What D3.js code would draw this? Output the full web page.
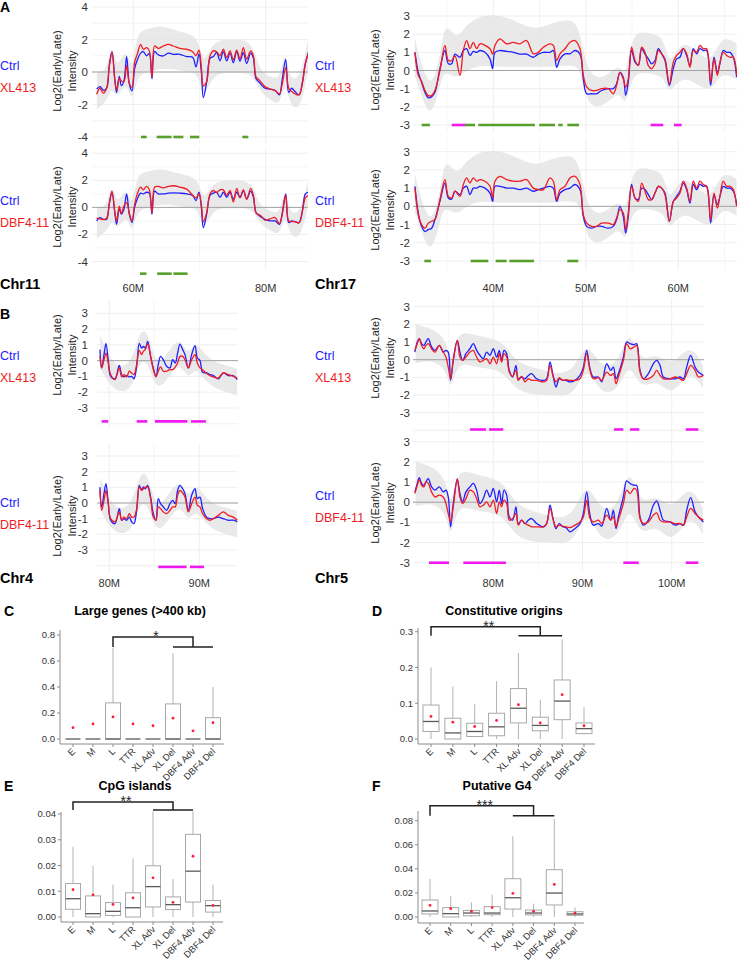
<!DOCTYPE html>
<html>
<head>
<meta charset="utf-8">
<script src="https://cdn.jsdelivr.net/npm/d3@7.9.0/dist/d3.min.js"></script>
<style>
  body { margin: 0; background: #fff; }
  svg { display: block; font-family: "Liberation Sans", Arial, sans-serif; }
</style>
</head>
<body>
<svg id="fig" width="737" height="961"></svg>
<script>
// ---------- panel A / B : replication timing tracks ----------
// positions in Mb, values are Log2(Early/Late)
const chr11Pos = [54.46,54.96,55.47,55.97,56.37,56.78,57.23,57.48,57.88,58.19,58.59,58.99,59.4,59.8,60.2,60.6,61.11,61.51,62.02,62.42,62.82,63.22,63.78,64.53,65.29,66.05,67.05,68.06,68.97,69.47,69.92,70.28,70.58,71.08,71.59,72.09,72.59,73.1,73.6,74.11,74.61,75.11,75.62,76.12,76.62,77.13,77.73,78.14,78.54,79.04,79.45,79.9,80.65,81.41,82.07,82.47,83.02,83.48,83.93,84.43,85.04,85.54,85.99,86.45];
const chr11CtrlA = [-1.05,-0.9,-1.12,-1.0,0.42,1.26,-0.53,-1.26,-0.27,-0.84,-0.53,0.95,-0.74,-1.16,0.21,0.74,1.16,1.26,0.99,1.16,-0.42,1.26,1.05,0.99,1.16,1.09,1.09,0.95,0.91,0.32,1.12,0,-1.58,-0.63,0.84,0.95,1.2,0.69,1.26,0.69,1.16,0.57,1.26,0.67,1.2,0.53,1.16,0.84,-0.42,-0.63,-0.84,-1.0,-1.05,-1.12,-1.41,-0.53,0.78,-1.26,-1.0,-1.2,-1.41,-0.63,0.53,1.2];
const chr11XL413 = [-1.37,-1.0,-1.3,-1.0,0.3,1.2,-0.6,-1.1,-0.4,-0.55,-0.6,0.4,-0.7,-0.95,0.6,1.1,1.7,1.4,1.5,1.3,-0.3,1.6,1.45,1.6,1.7,1.6,1.45,1.4,1.25,1.0,1.35,0.3,-0.85,-0.6,1.0,1.3,1.25,1.0,1.4,0.9,1.3,0.75,1.35,0.8,1.5,0.8,1.3,1.0,-0.3,-0.5,-0.7,-0.9,-1.05,-1.15,-1.35,-0.8,0.25,-1.0,-1.2,-1.35,-1.4,-0.7,0.5,1.15];
const chr11CtrlB = [-1.0,-0.75,-0.88,-0.88,0.25,1.1,-0.5,-1.25,-0.12,-0.5,-0.12,1.0,-0.5,-1.12,0,0.62,1.05,1.0,1.12,1.05,-0.5,1.2,1.0,1.0,1.05,1.07,1.05,1.0,0.88,0.5,1.12,0,-1.5,-0.5,0.88,1.05,1.12,0.75,1.12,0.75,1.12,0.62,1.12,0.75,1.25,0.62,1.2,0.75,-0.38,-0.62,-0.75,-0.88,-1.0,-1.0,-1.25,-0.5,1.0,-1.12,-1.0,-1.05,-1.12,-0.25,1.0,1.12];
const chr11DBF4 = [-0.8,-0.85,-0.9,-0.8,0.3,1.2,-0.4,-1.0,0.1,-0.45,0.1,0.35,-0.45,-1.0,0.2,1.0,1.5,1.3,1.55,1.3,-0.4,1.5,1.55,1.45,1.55,1.6,1.5,1.35,0.9,0.7,1.0,0.2,-1.05,-0.4,1.0,1.25,1.1,1.3,1.3,0.9,1.25,0.4,1.4,0.7,1.3,0.6,1.4,0.9,-0.4,-0.55,-0.7,-0.95,-0.85,-0.75,-1.2,-0.6,0.9,-1.0,-1.05,-1.05,-1.15,-0.3,0.7,0.9];

const chr17Pos = [31.53,31.89,32.25,32.61,32.97,33.33,33.69,34.23,34.77,35.14,35.5,35.86,36.4,36.76,37.12,37.48,37.84,38.2,38.56,39.1,39.64,39.93,40.18,40.72,41.44,42.16,42.88,43.6,44.32,44.86,45.41,46.13,46.49,46.85,47.21,47.75,48.29,48.83,49.37,49.73,50.09,50.63,51.17,51.71,52.43,52.97,53.33,53.69,54.05,54.31,54.59,54.95,55.32,55.68,56.04,56.4,56.76,57.12,57.48,57.84,58.2,58.56,59.03,59.46,59.82,60.18,60.54,60.9,61.26,61.62,61.98,62.34,62.7,63.06,63.5,63.86,64.22,64.5,64.86,65.23,65.59,65.95,66.31];
const chr17CtrlA = [1.0,-0.1,-0.65,-1.2,-1.5,-1.45,-1.2,0.1,1.1,0.37,0.37,0.9,0.73,1.1,1.2,0.83,1.05,1.0,1.1,1.0,0.64,0.1,1.0,1.1,1.05,1.0,0.9,0.9,0.73,0.9,1.0,1.0,1.1,0.18,0.64,0.92,0.92,1.1,0.9,-0.46,-1.28,-1.28,-1.28,-1.1,-1.0,-1.0,-0.73,-0.1,-0.37,-1.37,-0.64,1.1,0.46,0.3,1.2,0.9,0.64,0.37,0.55,1.2,0.92,0.55,-0.82,0.1,0.64,0.73,1.2,0.83,0.27,1.2,0.92,1.2,1.1,1.1,-0.82,0.73,-0.1,0.37,1.1,1.0,1.0,0.73,-0.37];
const chr17XL413 = [1.0,-0.27,-0.6,-1.1,-1.38,-1.38,-1.1,0,1.38,0.55,0.55,0.8,-0.27,1.1,1.65,1.2,1.55,1.2,1.47,1.38,1.2,0.9,1.38,1.74,1.47,1.55,1.47,1.65,0.92,1.0,1.28,1.47,1.38,0.55,0.92,1.2,1.55,1.65,1.2,-0.27,-0.9,-1.1,-1.1,-1.0,-1.0,-1.28,-0.82,-0.1,-0.46,-0.92,-0.46,1.28,0.55,0.27,1.28,1.0,0.27,0.1,0.37,1.1,0.92,0.64,-0.73,0.46,0.83,1.0,1.2,0.92,0.18,1.1,1.0,1.38,1.2,1.2,-0.64,0.64,-0.27,0.46,1.0,0.83,0.73,0.73,-0.27];
const chr17CtrlB = [1.1,-0.37,-1.1,-1.38,-1.28,-1.2,-0.73,0.27,1.28,0.46,0.4,0.83,0.64,1.0,1.1,0.64,1.0,1.0,1.1,1.0,0.73,0.27,1.1,1.1,1.0,1.0,0.92,1.0,0.83,0.92,1.0,1.1,1.0,0.27,0.73,0.92,1.0,1.2,0.92,-0.55,-1.1,-1.2,-1.1,-1.1,-1.2,-1.1,-0.73,0,-0.55,-1.47,-0.55,1.2,0.46,0.37,1.0,0.92,0.64,0.37,0.73,1.1,1.0,0.73,-0.82,0.27,0.55,0.83,1.28,0.92,0.18,1.2,0.92,1.2,1.1,1.1,-0.92,0.64,0.1,0.55,1.1,1.0,1.0,0.83,0.1];
const chr17DBF4 = [1.0,-0.46,-1.0,-1.2,-0.92,-0.82,-0.73,0.37,1.47,0.55,0.46,0.83,0.55,1.2,1.56,1.28,1.56,1.38,1.47,1.38,1.1,0.46,1.38,1.65,1.47,1.38,1.38,1.47,1.0,0.92,0.92,1.56,1.38,0.37,0.92,1.1,1.56,1.65,1.2,-0.46,-0.92,-1.1,-1.1,-0.92,-0.92,-1.0,-0.64,-0.18,-0.37,-1.28,-0.37,1.1,0.46,0.27,1.28,0.83,0.37,0.37,0.73,1.1,1.0,0.64,-0.82,0.27,0.46,0.73,1.38,1.0,0.27,1.38,1.0,1.38,1.2,1.1,-0.73,0.73,-0.1,0.55,1.38,1.1,1.1,0.92,0];

const chr4Pos = [78.96,79.15,79.41,79.63,79.89,80.15,80.63,81.11,81.37,81.63,81.93,82.22,82.48,82.74,83.04,83.33,83.59,83.78,84.0,84.26,84.59,84.89,85.19,85.44,85.7,86.0,86.37,86.74,87.04,87.33,87.59,87.85,88.15,88.41,88.78,89.15,89.52,89.78,90.07,90.37,90.81,91.19,91.56,92.11,92.67,93.22,93.78,94.22];
const chr4CtrlA = [0.7,-0.46,0.38,1.1,0,-1.0,-1.15,-0.3,-0.88,-1.03,-0.95,-1.03,-1.0,-1.15,-0.36,1.1,0.8,0.9,0.8,1.22,0.27,-0.46,-1.0,-0.25,0.27,0.06,-0.36,-0.46,0.06,-0.15,0.48,1.05,0.7,0.38,-0.46,0.38,0.95,0.17,0.02,-0.74,-0.78,-0.88,-0.95,-1.15,-0.78,-0.95,-0.95,-1.2];
const chr4XL413 = [0.27,-0.46,0.06,0.48,-0.15,-0.88,-1.2,-0.46,-1.03,-0.88,-1.03,-0.67,-0.78,-0.88,-0.25,0.65,0.38,0.59,0.7,1.07,0.27,-0.57,-1.03,-0.67,-0.4,-0.67,-0.67,-0.57,-0.57,-0.4,-0.15,0.27,0.27,0.06,-0.46,0.06,0.38,-0.15,-0.46,-0.57,-0.82,-0.95,-1.03,-1.1,-0.78,-0.88,-0.99,-1.1];
const chr4CtrlB = [1.0,-0.25,0.6,1.23,-0.04,-1.1,-1.32,-0.36,-1.1,-1.0,-1.1,-0.9,-1.2,-1.32,-0.47,1.13,0.85,1.02,0.91,1.13,0.38,-0.68,-1.1,0.28,-0.04,-0.25,-0.47,-0.04,0.17,-0.04,0.8,1.13,0.91,0.6,-0.47,0.49,0.91,0.28,0.38,-0.36,-0.9,-1.0,-1.0,-0.9,-1.0,-1.1,-1.1,-1.2];
const chr4DBF4 = [0.8,-0.47,0.17,0.8,-0.04,-1.0,-1.2,-0.57,-1.1,-0.9,-1.0,-0.68,-0.9,-0.9,-0.36,1.02,0.8,0.91,1.02,1.02,0.28,-0.9,-1.1,-0.25,-0.36,-0.57,-0.68,-0.47,-0.25,-0.25,0.49,0.8,0.64,0.38,-0.57,-0.04,0.38,-0.15,-0.25,-0.68,-1.0,-1.1,-1.0,-0.79,-0.57,-0.79,-0.9,-1.1];

const chr5Pos = [71.21,71.48,71.7,71.96,72.22,72.45,72.71,73.08,73.46,73.94,74.39,74.69,74.95,75.21,75.51,75.96,76.26,76.56,76.93,77.38,77.76,78.13,78.5,78.88,79.25,79.63,80.0,80.37,80.67,80.93,81.2,81.5,81.79,82.17,82.54,82.8,83.18,83.55,83.93,84.3,84.86,85.61,85.98,86.36,86.73,87.03,87.4,87.78,88.15,88.6,89.16,89.72,90.09,90.47,90.84,91.21,91.78,92.15,92.71,93.16,93.46,93.76,94.02,94.58,94.95,95.33,95.78,96.07,96.45,96.82,97.38,97.94,98.32,98.69,99.07,99.81,100.37,100.93,101.31,101.68,102.13,102.62,102.99,103.55];
const chr5CtrlA = [0.43,1.0,1.19,0.91,0.81,1.0,1.19,0.72,0.53,0.81,0.43,0.53,0.43,-1.17,-0.04,1.09,0.43,-0.04,0.34,0.62,0.91,0.53,0.25,0.06,0.43,0.25,0.62,0.15,0.53,-0.04,0.53,0.34,-0.6,-0.98,-0.32,-1.08,-0.98,-1.08,-0.89,-0.79,-1.08,-1.17,-1.08,-0.13,-0.98,-1.55,-1.08,-1.17,-1.17,-1.26,-1.17,-0.89,-0.42,0.53,-0.51,-0.98,-0.98,-1.26,-0.23,-0.6,-0.42,-1.08,-0.79,0.15,1.0,0.91,0.85,0.91,-0.6,-1.08,-0.79,-0.23,-0.04,-0.32,-0.98,-1.08,-1.08,-0.98,-1.08,-0.42,0.25,-0.42,-0.7,-0.89];
const chr5XL413 = [0.53,0.91,1.19,0.81,0.62,0.81,0.91,0.62,0.43,0.81,0.43,0.15,-0.42,-1.08,-0.04,1.09,0.15,-0.04,0.15,0.43,0.53,0.15,-0.13,-0.04,0.06,-0.23,0.15,-0.23,0.34,-0.13,0.34,0.15,-0.7,-0.94,-0.6,-1.17,-0.94,-1.26,-1.08,-1.17,-1.17,-1.26,-1.17,-0.32,-0.98,-1.26,-1.02,-1.17,-1.13,-1.17,-1.17,-1.08,-0.6,0.34,-0.6,-1.08,-1.02,-1.17,-0.7,-0.89,-0.79,-1.36,-0.98,-0.04,0.91,0.62,0.72,0.81,-0.7,-1.08,-1.08,-0.89,-0.6,-0.89,-1.08,-1.08,-0.98,-1.08,-1.17,-0.79,-0.32,-0.6,-0.98,-0.89];
const chr5CtrlB = [0.51,0.93,1.22,0.93,0.84,1.01,1.17,0.76,0.6,0.76,0.51,0.6,0.26,-1.22,-0.07,1.12,0.43,0.02,0.51,0.76,0.93,0.6,-0.07,0.18,0.6,0.26,0.68,0.02,0.6,-0.07,0.6,0.35,-0.73,-0.89,-0.23,-1.06,-0.89,-1.06,-0.89,-0.81,-1.06,-1.22,-1.06,-0.15,-0.89,-1.31,-1.06,-1.22,-1.26,-1.47,-1.31,-1.06,-0.56,0.51,-0.64,-1.14,-1.06,-1.19,-0.31,-0.89,-0.4,-1.31,-0.73,0.26,1.06,0.93,0.84,0.84,-0.73,-1.14,-0.89,-0.15,0.07,-0.4,-0.89,-0.98,-1.14,-1.06,-1.14,-0.4,0.23,-0.48,-0.73,-0.98];
const chr5DBF4 = [0.43,0.84,1.12,0.84,0.76,1.01,0.93,0.51,0.26,0.35,0.26,-0.07,-0.56,-0.98,-0.23,1.17,0.26,-0.07,0.18,0.6,0.51,0.18,-0.23,-0.15,0.02,-0.23,0.1,-0.56,0.02,-0.23,0.1,-0.07,-0.89,-0.81,-0.56,-1.14,-0.89,-1.06,-1.14,-1.22,-1.22,-1.22,-1.06,-0.31,-0.89,-1.22,-1.14,-1.19,-1.22,-1.26,-1.14,-0.98,-0.73,0.1,-0.81,-0.98,-0.89,-1.06,-0.64,-0.89,-0.73,-1.22,-0.89,-0.07,0.6,0.43,0.68,0.6,-0.81,-1.06,-0.98,-0.64,-0.53,-0.89,-0.98,-0.98,-1.06,-1.06,-1.14,-0.73,-0.31,-0.56,-0.73,-0.89];

// spread of the grey probe cloud: [pos, low, high]
const chr11Cloud = [[54.5,-2.3,0],[56,-1.8,0],[56.8,-0.8,2],[57.5,-1.8,0],[59,-0.4,1.7],[59.8,-2.1,-0.2],[60.5,-0.3,2.5],[62,0,2.6],[64,0.2,2.9],[66,0.2,2.6],[68,0,2.4],[69.9,0,2.1],[70.6,-1.9,0.3],[72,0,2],[75,-0.1,2],[78,0,2],[79,-1.2,0],[81,-1.8,-0.3],[82.1,-2.1,-0.5],[83,-0.4,1.6],[83.5,-2,-0.5],[85.2,-2.5,-0.5],[86.4,0.1,2]];
const chr17Cloud = [[31.5,-0.3,1.8],[32.3,-1.5,0.2],[33,-2.4,-0.7],[33.7,-2,-0.4],[34.3,-0.6,1],[34.8,0,2.8],[36,-0.5,1.6],[37,0,2.5],[38.5,0.3,3],[40.5,0.2,3.1],[42.5,0.2,2.7],[44.5,0.2,2.2],[46.2,0.2,2.6],[48.5,0.3,2.9],[49.4,0.2,2.2],[50.2,-2.1,-0.3],[52,-2,-0.5],[53.7,-1,0.5],[54.3,-2.2,-0.6],[55,0,2.3],[57,-0.2,2],[58.5,-0.3,1.9],[59,-1.5,0],[60.5,0,2.1],[63.5,-1.5,0],[64.5,0,2],[66.3,-0.5,1.5]];
const chr4Cloud = [[79,-0.5,1.6],[80.5,-2,-0.5],[82.5,-2,-0.3],[83.3,0,1.9],[84.3,0,2],[85.2,-2,-0.5],[86.5,-1.2,0.5],[87.8,0,1.6],[88.8,-1.3,0.2],[89.6,-0.3,1.4],[91,-1.6,0],[93,-2,-0.3],[94.2,-2.2,-0.5]];
const chr5Cloud = [[71.3,-0.2,2],[73,0,1.8],[74.8,-0.5,1.2],[75.2,-2,-0.5],[76,0,1.8],[78,-0.5,1.3],[81,-0.5,1.2],[82.5,-1.8,-0.2],[85,-2,-0.5],[87,-2,-0.8],[89,-2.1,-0.7],[90.5,-0.2,1.2],[92,-2,-0.5],[94,-1.8,-0.3],[95.3,0,2],[96.5,-1.8,-0.3],[98.3,-1,0.5],[100,-2.2,-0.5],[102,-0.5,1],[103.5,-1.6,-0.3]];

// advanced (adv) / delayed (del) domains: [start, end, type]
const chr11SegXL = [[61.16,62.02,'adv'],[63.53,65.79,'adv'],[66.05,67.56,'adv'],[68.56,69.97,'adv'],[76.47,77.38,'adv']];
const chr11SegDBF = [[61.0,62.0,'adv'],[63.6,65.8,'adv'],[66.05,68.2,'adv']];
const chr17SegXL = [[32.25,33.15,'adv'],[35.5,36.94,'del'],[36.94,38.02,'adv'],[38.38,44.5,'adv'],[44.97,46.67,'adv'],[47.03,47.5,'adv'],[48.0,49.26,'adv'],[57.0,58.38,'del'],[59.53,60.36,'del']];
const chr17SegDBF = [[32.54,33.26,'adv'],[37.55,39.46,'adv'],[40.25,41.44,'adv'],[41.73,44.4,'adv'],[48.0,49.19,'adv']];
const chr4SegXL = [[79.15,79.89,'del'],[83.04,84.22,'del'],[85.07,88.67,'del'],[89.07,90.74,'del']];
const chr4SegDBF = [[85.44,88.59,'del'],[88.96,90.52,'del']];
const chr5SegXL = [[77.38,79.18,'del'],[79.51,81.12,'del'],[93.53,94.58,'del'],[95.33,96.37,'del'],[101.57,102.99,'del']];
const chr5SegDBF = [[72.79,75.03,'del'],[76.64,81.42,'del'],[94.58,96.3,'del'],[101.57,102.99,'del']];

// ---------- panels C-F : box plots ----------
const boxCats = ['E','M','L','TTR','XL Adv','XL Del','DBF4 Adv','DBF4 Del'];

const largeMin  = [0,0,0,0,0,0,0,0];
const largeQ1   = [0,0,0,0,0,0,0,0];
const largeMed  = [0,0,0,0,0,0,0,0];
const largeQ3   = [0,0,0.278,0,0,0.27,0,0.164];
const largeMax  = [0,0,0.70,0,0,0.66,0,0.40];
const largeMean = [0.087,0.116,0.17,0.116,0.102,0.16,0.063,0.125];

const origMin  = [0,0,0.007,0,0,0,0,0.013];
const origQ1   = [0.021,0,0.007,0.009,0.045,0.023,0.054,0.015];
const origMed  = [0.049,0.017,0.021,0.034,0.086,0.038,0.106,0.029];
const origQ3   = [0.095,0.058,0.044,0.072,0.141,0.061,0.165,0.045];
const origMax  = [0.2,0.147,0.097,0.162,0.24,0.11,0.279,0.089];
const origMean = [0.063,0.047,0.035,0.052,0.096,0.045,0.124,0.037];

const cpgMin  = [0,0,0,0,0,0,0,0];
const cpgQ1   = [0.003,0,0.0006,0,0.0039,0.0029,0.0058,0.0019];
const cpgMed  = [0.0071,0.0013,0.0022,0.0036,0.0118,0.0048,0.0178,0.0044];
const cpgQ3   = [0.013,0.0082,0.0056,0.0094,0.0199,0.0078,0.0321,0.0064];
const cpgMax  = [0.0273,0.0199,0.0126,0.0227,0.041,0.0147,0.041,0.0126];
const cpgMean = [0.0106,0.0086,0.0049,0.0074,0.0152,0.0057,0.0236,0.0045];

const g4Min  = [0,0,0,0,0,0,0,0];
const g4Q1   = [0.0025,0,0.001,0.0019,0.0066,0.0017,0.01,0.0014];
const g4Med  = [0.005,0.0028,0.0033,0.0033,0.016,0.0033,0.0199,0.0025];
const g4Q3   = [0.0141,0.0078,0.0055,0.0086,0.0318,0.0058,0.0393,0.0044];
const g4Max  = [0.0316,0.0172,0.0122,0.0185,0.067,0.0111,0.0814,0.008];
const g4Mean = [0.0097,0.0069,0.0047,0.0078,0.0197,0.0047,0.0271,0.0033];

// ---------- drawing ----------
const svg = d3.select('#fig');
const BLUE = '#2020ff', RED = '#f01c24';
const segColor = { adv: '#58a02c', del: '#f01af0' };
let clipN = 0;

function drawTrack(t) {
  const x = d3.scaleLinear().domain(t.xd).range(t.xr);
  const y = d3.scaleLinear().domain(t.yd).range(t.yr);
  const g = svg.append('g');
  const cid = 'clip' + (clipN++);
  svg.append('clipPath').attr('id', cid).append('rect')
    .attr('x', t.left).attr('y', t.top)
    .attr('width', t.right - t.left).attr('height', t.bottom - t.top);

  // grid
  const yLo = Math.ceil(y.invert(t.bottom)), yHi = Math.floor(y.invert(t.top));
  d3.range(yLo, yHi + 1).forEach(v => {
    g.append('line').attr('x1', t.left).attr('x2', t.right)
      .attr('y1', y(v)).attr('y2', y(v))
      .attr('stroke', v % t.yStep === 0 ? '#ebebeb' : '#f3f3f3').attr('stroke-width', 0.8);
  });
  const step = t.xTicks[1] - t.xTicks[0];
  const xa = x.invert(t.left), xb = x.invert(t.right);
  d3.range(Math.ceil(xa / (step / 2)) * step / 2, xb, step / 2).forEach(v => {
    g.append('line').attr('x1', x(v)).attr('x2', x(v))
      .attr('y1', t.top).attr('y2', t.bottom)
      .attr('stroke', Math.abs(v % step) < 1e-6 ? '#ebebeb' : '#f3f3f3').attr('stroke-width', 0.8);
  });

  const inner = g.append('g').attr('clip-path', `url(#${cid})`);

  // grey probe cloud
  inner.append('path').datum(t.cloud)
    .attr('d', d3.area().curve(d3.curveBasis)
      .x(d => x(d[0])).y0(d => y(d[1])).y1(d => y(d[2])))
    .attr('fill', '#e2e2e2').attr('opacity', 0.75);

  inner.append('line').attr('x1', t.left).attr('x2', t.right)
    .attr('y1', y(0)).attr('y2', y(0)).attr('stroke', '#a3a3a3').attr('stroke-width', 1);

  const line = d3.line().curve(d3.curveCatmullRom.alpha(0.5))
    .x(d => x(d[0])).y(d => y(d[1]));
  [[t.ctrl, BLUE], [t.treat, RED]].forEach(([vals, col]) => {
    inner.append('path').datum(t.pos.map((p, i) => [p, vals[i]]))
      .attr('d', line).attr('fill', 'none').attr('stroke', col).attr('stroke-width', 1.3);
  });

  // advanced / delayed domains
  g.selectAll(null).data(t.segs).join('line')
    .attr('x1', d => x(d[0])).attr('x2', d => x(d[1]))
    .attr('y1', y(t.segLevel)).attr('y2', y(t.segLevel))
    .attr('stroke', d => segColor[d[2]]).attr('stroke-width', 2.6);

  // y ticks
  g.selectAll(null).data(t.yTicks).join('text')
    .attr('x', t.tickX).attr('y', d => y(d) + 4)
    .attr('text-anchor', 'end').attr('font-size', 11.5).attr('fill', '#333')
    .text(d => d);

  // y title
  [['Log2(Early/Late)', t.titleX], ['Intensity', t.titleX + 15]].forEach(([s, tx]) => {
    g.append('text').attr('transform', `translate(${tx},${t.titleY}) rotate(-90)`)
      .attr('text-anchor', 'middle').attr('font-size', 11).attr('fill', '#222').text(s);
  });

  // legend names
  g.append('text').attr('x', t.nameX).attr('y', t.nameY).attr('font-size', 12.5)
    .attr('fill', BLUE).text('Ctrl');
  g.append('text').attr('x', t.nameX).attr('y', t.nameY + 22).attr('font-size', 12.5)
    .attr('fill', RED).text(t.treatName);

  if (t.chr) {
    g.selectAll(null).data(t.xTicks).join('text')
      .attr('x', d => x(d)).attr('y', t.xLabelY)
      .attr('text-anchor', 'middle').attr('font-size', 11).attr('fill', '#333')
      .text(d => d + 'M');
    g.append('text').attr('x', t.nameX).attr('y', t.chrY)
      .attr('font-size', 14.5).attr('font-weight', 'bold').text(t.chr);
  }
}

// Chr11 (A, left)
drawTrack({ xd: [60, 80], xr: [133.3, 265.7], left: 92, right: 308, top: 0, bottom: 143,
  yd: [-4, 4], yr: [137, 7], yStep: 2, yTicks: [-4, -2, 0, 2, 4], tickX: 88,
  xTicks: [60, 80], pos: chr11Pos, ctrl: chr11CtrlA, treat: chr11XL413, cloud: chr11Cloud,
  segs: chr11SegXL, segLevel: -4, titleX: 61, titleY: 71, nameX: 0, nameY: 70, treatName: 'XL413' });
drawTrack({ xd: [60, 80], xr: [133.3, 265.7], left: 92, right: 308, top: 147, bottom: 270,
  yd: [-4, 4], yr: [261.5, 153.3], yStep: 2, yTicks: [-4, -2, 0, 2, 4], tickX: 88,
  xTicks: [60, 80], pos: chr11Pos, ctrl: chr11CtrlB, treat: chr11DBF4, cloud: chr11Cloud,
  segs: chr11SegDBF, segLevel: -4.9, titleX: 61, titleY: 207, nameX: 0, nameY: 205, treatName: 'DBF4-11',
  chr: 'Chr11', xLabelY: 292, chrY: 289 });

// Chr17 (A, right)
drawTrack({ xd: [40, 60], xr: [493.3, 678.3], left: 413, right: 737, top: 0, bottom: 133,
  yd: [-3, 3], yr: [125, 16], yStep: 1, yTicks: [-3, -2, -1, 0, 1, 2, 3], tickX: 410,
  xTicks: [40, 50, 60], pos: chr17Pos, ctrl: chr17CtrlA, treat: chr17XL413, cloud: chr17Cloud,
  segs: chr17SegXL, segLevel: -3, titleX: 379, titleY: 70, nameX: 315, nameY: 70, treatName: 'XL413' });
drawTrack({ xd: [40, 60], xr: [493.3, 678.3], left: 413, right: 737, top: 138, bottom: 270,
  yd: [-3, 3], yr: [261, 151.7], yStep: 1, yTicks: [-3, -2, -1, 0, 1, 2, 3], tickX: 410,
  xTicks: [40, 50, 60], pos: chr17Pos, ctrl: chr17CtrlB, treat: chr17DBF4, cloud: chr17Cloud,
  segs: chr17SegDBF, segLevel: -3, titleX: 379, titleY: 210, nameX: 315, nameY: 205, treatName: 'DBF4-11',
  chr: 'Chr17', xLabelY: 292, chrY: 289 });

// Chr4 (B, left)
drawTrack({ xd: [80, 90], xr: [109.3, 199.3], left: 97, right: 238, top: 300, bottom: 428,
  yd: [-3, 3], yr: [408, 313.3], yStep: 1, yTicks: [-3, -2, -1, 0, 1, 2, 3], tickX: 88,
  xTicks: [80, 90], pos: chr4Pos, ctrl: chr4CtrlA, treat: chr4XL413, cloud: chr4Cloud,
  segs: chr4SegXL, segLevel: -3.85, titleX: 61, titleY: 355, nameX: 0, nameY: 360, treatName: 'XL413' });
drawTrack({ xd: [80, 90], xr: [109.3, 199.3], left: 97, right: 238, top: 444, bottom: 571,
  yd: [-3, 3], yr: [550, 456], yStep: 1, yTicks: [-3, -2, -1, 0, 1, 2, 3], tickX: 88,
  xTicks: [80, 90], pos: chr4Pos, ctrl: chr4CtrlB, treat: chr4DBF4, cloud: chr4Cloud,
  segs: chr4SegDBF, segLevel: -4.08, titleX: 61, titleY: 516, nameX: 0, nameY: 507, treatName: 'DBF4-11',
  chr: 'Chr4', xLabelY: 587, chrY: 583 });

// Chr5 (B, right)
drawTrack({ xd: [80, 100], xr: [493.3, 671.7], left: 413, right: 704, top: 298, bottom: 433,
  yd: [-3, 3], yr: [412.7, 306.7], yStep: 1, yTicks: [-3, -2, -1, 0, 1, 2, 3], tickX: 410,
  xTicks: [80, 90, 100], pos: chr5Pos, ctrl: chr5CtrlA, treat: chr5XL413, cloud: chr5Cloud,
  segs: chr5SegXL, segLevel: -3.95, titleX: 379, titleY: 358, nameX: 315, nameY: 360, treatName: 'XL413' });
drawTrack({ xd: [80, 100], xr: [493.3, 671.7], left: 413, right: 704, top: 433, bottom: 570,
  yd: [-3, 3], yr: [562.7, 441.7], yStep: 1, yTicks: [-3, -2, -1, 0, 1, 2, 3], tickX: 410,
  xTicks: [80, 90, 100], pos: chr5Pos, ctrl: chr5CtrlB, treat: chr5DBF4, cloud: chr5Cloud,
  segs: chr5SegDBF, segLevel: -3, titleX: 379, titleY: 503, nameX: 315, nameY: 500, treatName: 'DBF4-11',
  chr: 'Chr5', xLabelY: 587, chrY: 583 });

function drawBoxes(b) {
  const x = d3.scalePoint().domain(boxCats).range(b.xr);
  const y = d3.scaleLinear().domain(b.yd).range(b.yr);
  const g = svg.append('g');
  const rows = boxCats.map((c, i) => ({ c, lo: b.min[i], q1: b.q1[i], med: b.med[i],
    q3: b.q3[i], hi: b.max[i], mean: b.mean[i] }));
  const w = b.boxW;

  g.selectAll(null).data(rows).join('line')
    .attr('x1', d => x(d.c)).attr('x2', d => x(d.c))
    .attr('y1', d => y(d.lo)).attr('y2', d => y(d.hi))
    .attr('stroke', '#b3b3b3').attr('stroke-width', 1);
  g.selectAll(null).data(rows).join('rect')
    .attr('x', d => x(d.c) - w / 2).attr('width', w)
    .attr('y', d => y(d.q3)).attr('height', d => Math.max(0, y(d.q1) - y(d.q3)))
    .attr('fill', '#fff').attr('stroke', '#a8a8a8').attr('stroke-width', 1);
  g.selectAll(null).data(rows).join('line')
    .attr('x1', d => x(d.c) - w / 2).attr('x2', d => x(d.c) + w / 2)
    .attr('y1', d => y(d.med)).attr('y2', d => y(d.med))
    .attr('stroke', '#5a5a5a').attr('stroke-width', 1.3);
  g.selectAll(null).data(rows).join('circle')
    .attr('cx', d => x(d.c)).attr('cy', d => y(d.mean)).attr('r', 1.4)
    .attr('fill', '#ff1a3c');

  // axes
  g.append('line').attr('x1', b.axisX).attr('x2', b.axisX)
    .attr('y1', b.axisY).attr('y2', b.axisTop).attr('stroke', '#8c8c8c');
  g.append('line').attr('x1', b.axisX).attr('x2', b.axisRight)
    .attr('y1', b.axisY).attr('y2', b.axisY).attr('stroke', '#8c8c8c');
  const fmt = d3.format(b.fmt);
  b.ticks.forEach(v => {
    g.append('line').attr('x1', b.axisX - 3).attr('x2', b.axisX)
      .attr('y1', y(v)).attr('y2', y(v)).attr('stroke', '#8c8c8c');
    g.append('text').attr('x', b.axisX - 5).attr('y', y(v) + 3.3)
      .attr('text-anchor', 'end').attr('font-size', 9.5).attr('fill', '#333').text(fmt(v));
  });
  boxCats.forEach(c => {
    g.append('line').attr('x1', x(c)).attr('x2', x(c))
      .attr('y1', b.axisY).attr('y2', b.axisY + 3).attr('stroke', '#8c8c8c');
    g.append('text')
      .attr('transform', `translate(${x(c) + 3},${b.axisY + 8}) rotate(-45)`)
      .attr('text-anchor', 'end').attr('font-size', 9.3).attr('fill', '#333').text(c);
  });

  // title and panel letter
  g.append('text').attr('x', b.titleX).attr('y', b.titleY).attr('text-anchor', 'middle')
    .attr('font-size', 12.5).attr('font-weight', 'bold').text(b.title);
  g.append('text').attr('x', b.letterX).attr('y', b.titleY + 1)
    .attr('font-size', 14).attr('font-weight', 'bold').text(b.letter);

  // significance bracket
  const xl = x(b.br.from), xa = x(b.br.to[0]), xb = x(b.br.to[1]);
  const xm = (xa + xb) / 2, yTop = y(b.br.top), yLow = y(b.br.low);
  g.append('path')
    .attr('d', `M${xl},${yLow}V${yTop}H${xm}V${yLow}M${xa},${yLow}H${xb}`)
    .attr('fill', 'none').attr('stroke', '#222').attr('stroke-width', 1.5);
  g.append('text').attr('x', (xl + xm) / 2 + 3).attr('y', yTop + 4.5)
    .attr('text-anchor', 'middle').attr('font-size', 14).attr('fill', '#222').text(b.br.label);
}

drawBoxes({ title: 'Large genes (>400 kb)', letter: 'C', letterX: 4, titleX: 140, titleY: 615,
  xr: [73, 213], yd: [0, 0.8], yr: [739, 635], boxW: 15, ticks: [0, 0.2, 0.4, 0.6, 0.8], fmt: '.1f',
  axisX: 60, axisY: 744, axisTop: 630, axisRight: 224,
  min: largeMin, q1: largeQ1, med: largeMed, q3: largeQ3, max: largeMax, mean: largeMean,
  br: { from: 'L', to: ['XL Del', 'DBF4 Del'], top: 0.785, low: 0.708, label: '*' } });

drawBoxes({ title: 'Constitutive origins', letter: 'D', letterX: 372, titleX: 504, titleY: 615,
  xr: [431, 584], yd: [0, 0.3], yr: [739, 631.7], boxW: 16, ticks: [0, 0.1, 0.2, 0.3], fmt: '.1f',
  axisX: 418, axisY: 744, axisTop: 628, axisRight: 595,
  min: origMin, q1: origQ1, med: origMed, q3: origQ3, max: origMax, mean: origMean,
  br: { from: 'E', to: ['XL Adv', 'DBF4 Adv'], top: 0.314, low: 0.289, label: '**' } });

drawBoxes({ title: 'CpG islands', letter: 'E', letterX: 4, titleX: 135, titleY: 790,
  xr: [73, 213], yd: [0, 0.04], yr: [917, 814], boxW: 15, ticks: [0, 0.01, 0.02, 0.03, 0.04], fmt: '.2f',
  axisX: 61, axisY: 922, axisTop: 812, axisRight: 223,
  min: cpgMin, q1: cpgQ1, med: cpgMed, q3: cpgQ3, max: cpgMax, mean: cpgMean,
  br: { from: 'E', to: ['XL Adv', 'DBF4 Adv'], top: 0.0447, low: 0.0416, label: '**' } });

drawBoxes({ title: 'Putative G4', letter: 'F', letterX: 372, titleX: 497, titleY: 790,
  xr: [430, 575], yd: [0, 0.08], yr: [917, 820.7], boxW: 16, ticks: [0, 0.02, 0.04, 0.06, 0.08], fmt: '.2f',
  axisX: 418, axisY: 923, axisTop: 811, axisRight: 584,
  min: g4Min, q1: g4Q1, med: g4Med, q3: g4Q3, max: g4Max, mean: g4Mean,
  br: { from: 'E', to: ['XL Adv', 'DBF4 Adv'], top: 0.0925, low: 0.0842, label: '***' } });

// panel letters for the tracks
svg.append('text').attr('x', 0).attr('y', 12).attr('font-size', 14).attr('font-weight', 'bold').text('A');
svg.append('text').attr('x', 0).attr('y', 319).attr('font-size', 14).attr('font-weight', 'bold').text('B');
</script>
</body>
</html>
